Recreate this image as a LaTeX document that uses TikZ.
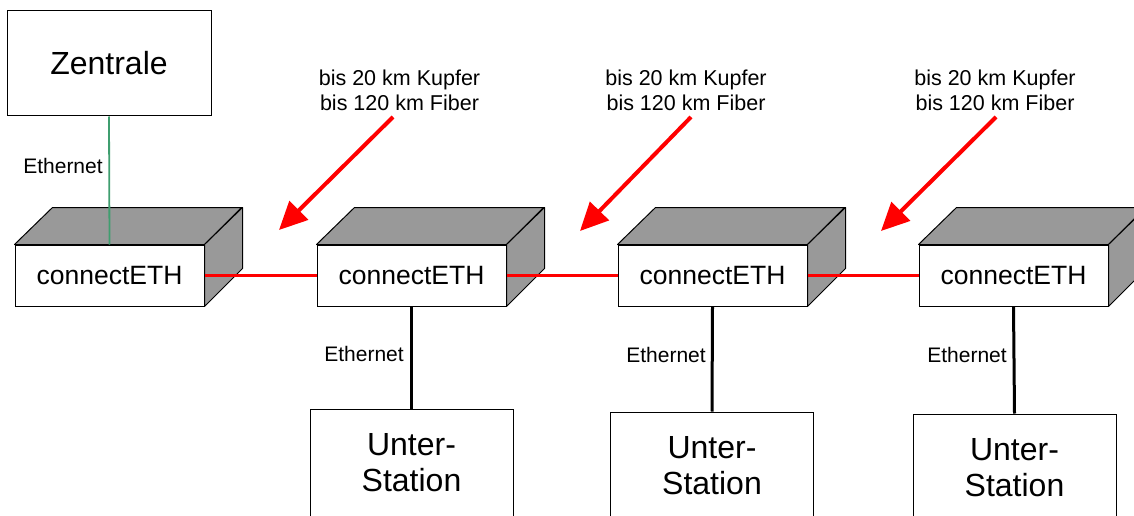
\documentclass[tikz,border=0pt]{standalone}
\usepackage{fontspec}
\setmainfont{Liberation Sans}
\usetikzlibrary{arrows.meta}
\definecolor{boxgray}{HTML}{999999}
\definecolor{ethgreen}{HTML}{3F9E6F}
\definecolor{linkred}{HTML}{FF0000}
\begin{document}
\begin{tikzpicture}[x=1pt,y=-1pt,
  front/.style={draw, fill=white, line width=1pt, minimum width=189pt, minimum height=61pt, inner sep=0pt, font=\fontsize{26.5}{30}\selectfont},
  face/.style={draw, fill=boxgray, line width=1pt, line join=round},
  station/.style={draw, fill=white, line width=1pt, minimum width=203pt, minimum height=107pt, inner sep=0pt, align=center, font=\fontsize{32}{36}\selectfont},
  central/.style={draw, fill=white, line width=1pt, minimum width=204pt, minimum height=105pt, inner sep=0pt, font=\fontsize{32}{36}\selectfont},
  lbl/.style={inner sep=0pt, font=\fontsize{21}{24}\selectfont},
  dist/.style={inner sep=0pt, align=center, font=\fontsize{21.5}{25}\selectfont},
  redlink/.style={draw=linkred, line width=3pt},
  eth/.style={draw=black, line width=3pt},
  greenlink/.style={draw=ethgreen, line width=1.8pt},
  pointer/.style={draw=linkred, line width=4pt, -{Triangle[length=28pt,width=26pt]}}
]
\clip (0,0) rectangle (1134,516);
\fill[white] (0,0) rectangle (1134,516);

% Zentrale
\node[central] (z) at (109,63.5) {Zentrale};

% connectETH boxes
\foreach \n/\cx in {b1/109.5, b2/411.5, b3/712.5, b4/1013.5}{
  \node[front] (\n) at (\cx,275.5) {connectETH};
  \draw[face] (\n.north west) -- ++(38,-37) -- ++(189,0) -- (\n.north east) -- cycle;
  \draw[face] (\n.north east) -- ++(38,-37) -- ++(0,61) -- (\n.south east) -- cycle;
}

% Unter-Stationen
\node[station] (s2) at (411.5,462.5) {Unter-\\Station};
\node[station] (s3) at (712,465.5) {Unter-\\Station};
\node[station] (s4) at (1014.5,467.5) {Unter-\\Station};

% connectors
\draw[greenlink] (z.south) -- (b1.north);
\node[lbl] (e1) at (63,166) {Ethernet};
\draw[redlink] (b1.east) -- (b2.west);
\draw[redlink] (b2.east) -- (b3.west);
\draw[redlink] (b3.east) -- (b4.west);
\draw[eth] (b2.south) -- (s2.north);
\draw[eth] (b3.south) -- (s3.north);
\draw[eth] (b4.south) -- (s4.north);
\node[lbl] (e2) at (364,354) {Ethernet};
\node[lbl] (e3) at (666,355) {Ethernet};
\node[lbl] (e4) at (967,355) {Ethernet};

% distance labels and pointers
\node[dist] (t1) at (399.5,90.5) {bis 20 km Kupfer\\bis 120 km Fiber};
\node[dist] (t2) at (686,90.5) {bis 20 km Kupfer\\bis 120 km Fiber};
\node[dist] (t3) at (995,90.5) {bis 20 km Kupfer\\bis 120 km Fiber};
\coordinate (p1s) at (393,117); \coordinate (p1e) at (279,230);
\coordinate (p2s) at (691,117); \coordinate (p2e) at (580,231);
\coordinate (p3s) at (996,117); \coordinate (p3e) at (881,231);
\draw[pointer] (p1s) -- (p1e);
\draw[pointer] (p2s) -- (p2e);
\draw[pointer] (p3s) -- (p3e);
\end{tikzpicture}
\end{document}
